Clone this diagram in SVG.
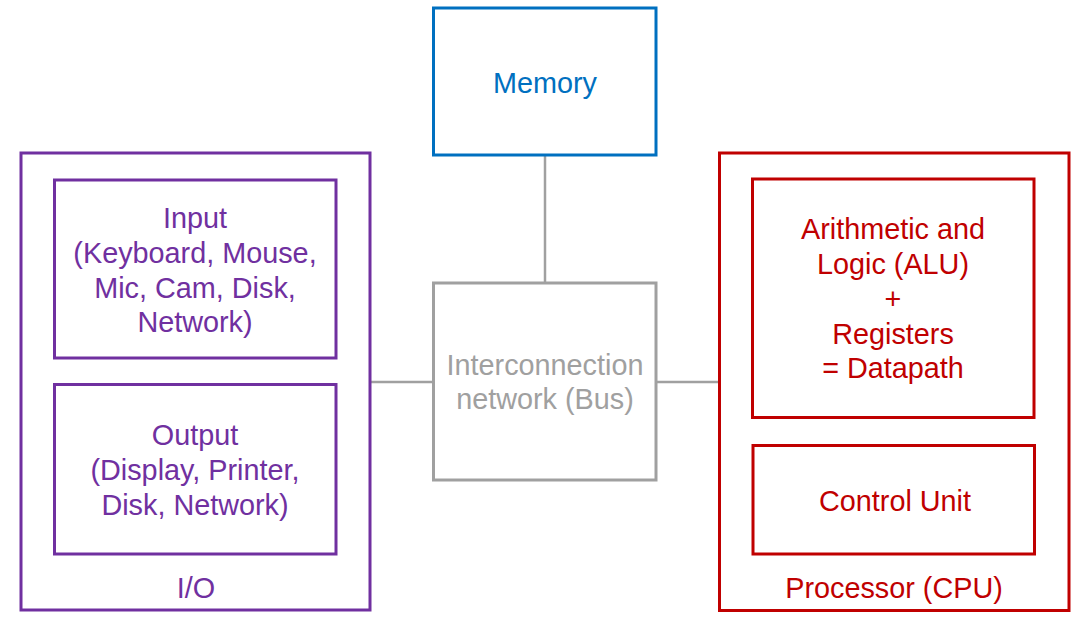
<svg xmlns="http://www.w3.org/2000/svg" width="1087" height="621" viewBox="0 0 1087 621">
<style>
text{font-family:"Liberation Sans",Arial,sans-serif;font-size:28.8px;text-anchor:middle}
.box{fill:none;stroke-width:3}
.pu{stroke:#7030A0}.pt{fill:#7030A0}
.bl{stroke:#0070C0}.bt{fill:#0070C0}
.rd{stroke:#C00000}.rt{fill:#C00000}
.gy{stroke:#A0A0A0}.gt{fill:#A0A0A0}
.conn{stroke:#A0A0A0;stroke-width:2.5;fill:none}
</style>
<rect width="1087" height="621" fill="#FFFFFF"/>
<g id="connectors">
<line class="conn" x1="545" y1="155" x2="545" y2="283"/>
<line class="conn" x1="371" y1="382" x2="433" y2="382"/>
<line class="conn" x1="656" y1="382" x2="719" y2="382"/>
</g>
<g id="io">
<rect class="box pu" x="21" y="153" width="349" height="457"/>
<text class="pt" x="196" y="598">I/O</text>
</g>
<g id="input">
<rect class="box pu" x="54.5" y="180" width="281.5" height="178"/>
<text class="pt" x="195" y="228">Input</text>
<text class="pt" x="195" y="263">(Keyboard, Mouse,</text>
<text class="pt" x="195" y="298">Mic, Cam, Disk,</text>
<text class="pt" x="195" y="332">Network)</text>
</g>
<g id="output">
<rect class="box pu" x="54.5" y="384.5" width="281.5" height="169.5"/>
<text class="pt" x="195" y="445">Output</text>
<text class="pt" x="195" y="480">(Display, Printer,</text>
<text class="pt" x="195" y="515">Disk, Network)</text>
</g>
<g id="memory">
<rect class="box bl" x="433.5" y="8" width="222.5" height="147"/>
<text class="bt" x="545" y="93">Memory</text>
</g>
<g id="bus">
<rect class="box gy" x="433.5" y="283" width="222.5" height="197"/>
<text class="gt" x="545" y="375">Interconnection</text>
<text class="gt" x="545" y="409">network (Bus)</text>
</g>
<g id="cpu">
<rect class="box rd" x="719.5" y="153" width="349.5" height="457.5"/>
<text class="rt" x="894" y="598">Processor (CPU)</text>
</g>
<g id="datapath">
<rect class="box rd" x="752.5" y="179" width="281.5" height="238.5"/>
<text class="rt" x="893" y="239">Arithmetic and</text>
<text class="rt" x="893" y="274">Logic (ALU)</text>
<text class="rt" x="893" y="309">+</text>
<text class="rt" x="893" y="344">Registers</text>
<text class="rt" x="893" y="378">= Datapath</text>
</g>
<g id="control">
<rect class="box rd" x="753" y="445.5" width="281.5" height="108.5"/>
<text class="rt" x="895" y="511">Control Unit</text>
</g>
</svg>
